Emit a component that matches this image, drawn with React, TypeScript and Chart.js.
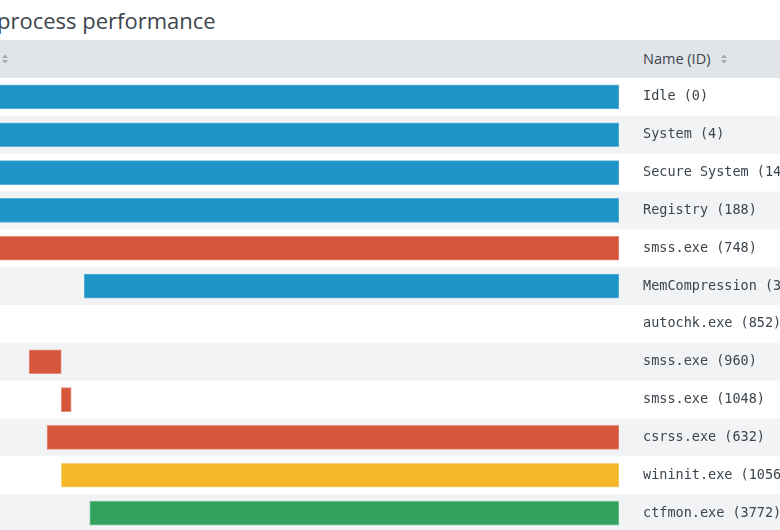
import React, { useEffect, useRef } from "react";
import { Chart, registerables } from "chart.js";

Chart.register(...registerables);

const processNames = [
  "Idle (0)",
  "System (4)",
  "Secure System (140)",
  "Registry (188)",
  "smss.exe (748)",
  "MemCompression (3168)",
  "autochk.exe (852)",
  "smss.exe (960)",
  "smss.exe (1048)",
  "csrss.exe (632)",
  "wininit.exe (1056)",
  "ctfmon.exe (3772)",
];

const startTimes = [-20, -20, -20, -20, -20, 13.6, null, 4.7, 9.9, 7.6, 9.9, 14.5];
const endTimes = [100, 100, 100, 100, 100, 100, null, 9.9, 11.5, 100, 100, 100];

const statusColors = [
  "#1e93c6", "#1e93c6", "#1e93c6", "#1e93c6", "#d6563c", "#1e93c6",
  "#1e93c6", "#d6563c", "#d6563c", "#d6563c", "#f2b827", "#31a35f",
];
const statusBorders = [
  "#5bb3da", "#5bb3da", "#5bb3da", "#5bb3da", "#e98e7c", "#5bb3da",
  "#5bb3da", "#e98e7c", "#e98e7c", "#e98e7c", "#f7d27a", "#7cc79a",
];

const SortIcon = ({ style }: { style: React.CSSProperties }) => (
  <svg width="8" height="12" viewBox="0 0 8 12" style={style}>
    <path d="M4 1.5 L7 5 L1 5 Z" fill="#a3aab2" />
    <path d="M4 10.5 L7 7 L1 7 Z" fill="#a3aab2" />
  </svg>
);

export default function App() {
  const canvasRef = useRef<HTMLCanvasElement | null>(null);

  useEffect(() => {
    if (!canvasRef.current) return;
    const stripes = {
      id: "stripes",
      beforeDraw(chart: any) {
        const { ctx, scales } = chart;
        const y = scales.y;
        const n = processNames.length;
        const rowH = (y.bottom - y.top) / n;
        ctx.save();
        for (let i = 0; i < n; i++) {
          if (i % 2 === 1) {
            const c = y.getPixelForValue(i);
            ctx.fillStyle = "#f2f3f5";
            ctx.fillRect(0, c - rowH / 2, chart.width, rowH);
          }
        }
        ctx.restore();
      },
    };
    const data = startTimes.map((s, i) =>
      s === null || endTimes[i] === null ? null : [s, endTimes[i]]
    );
    const chart = new Chart(canvasRef.current, {
      type: "bar",
      data: {
        labels: processNames,
        datasets: [
          {
            data: data as any,
            backgroundColor: statusColors,
            borderColor: statusBorders,
            borderWidth: 1,
            borderSkipped: false,
            barThickness: 24,
          },
        ],
      },
      options: {
        indexAxis: "y",
        animation: false,
        responsive: false,
        maintainAspectRatio: false,
        layout: { padding: 0 },
        plugins: { legend: { display: false }, tooltip: { enabled: false } },
        scales: {
          x: { display: false, min: 0, max: 100 },
          y: {
            position: "right",
            grid: { display: false, drawTicks: true, tickLength: 24 },
            border: { display: false },
            ticks: {
              crossAlign: "near",
              padding: 0,
              color: "#3c444d",
              font: { family: "'DejaVu Sans Mono', monospace", size: 13.5 },
            },
            afterFit: (axis: any) => {
              axis.width = 200;
              axis.paddingTop = 0;
              axis.paddingBottom = 0;
            },
          },
        },
      },
      plugins: [stripes],
    });
    return () => chart.destroy();
  }, []);

  return (
    <div
      style={{
        position: "fixed",
        left: 0,
        top: 0,
        width: 780,
        height: 530,
        overflow: "hidden",
        background: "#ffffff",
        fontFamily: "'Open Sans', sans-serif",
      }}
    >
      <div
        style={{
          position: "absolute",
          left: -3,
          top: 4,
          fontSize: 22,
          color: "#3c444d",
          whiteSpace: "nowrap",
          lineHeight: "32px",
        }}
      >
        process performance
      </div>
      <div
        style={{
          position: "absolute",
          left: 0,
          top: 40,
          width: 780,
          height: 38,
          background: "#e1e4e8",
        }}
      >
        <SortIcon style={{ position: "absolute", left: 1, top: 13 }} />
        <span
          style={{
            position: "absolute",
            left: 643,
            top: 0,
            lineHeight: "38px",
            fontSize: 14.5,
            color: "#3c444d",
            whiteSpace: "nowrap",
          }}
        >
          Name (ID)
        </span>
        <SortIcon style={{ position: "absolute", left: 720, top: 13 }} />
      </div>
      <div style={{ position: "absolute", left: 0, top: 78 }}>
        <canvas
          ref={canvasRef}
          width={819}
          height={454}
          style={{ width: 819, height: 454, display: "block" }}
        />
      </div>
    </div>
  );
}
